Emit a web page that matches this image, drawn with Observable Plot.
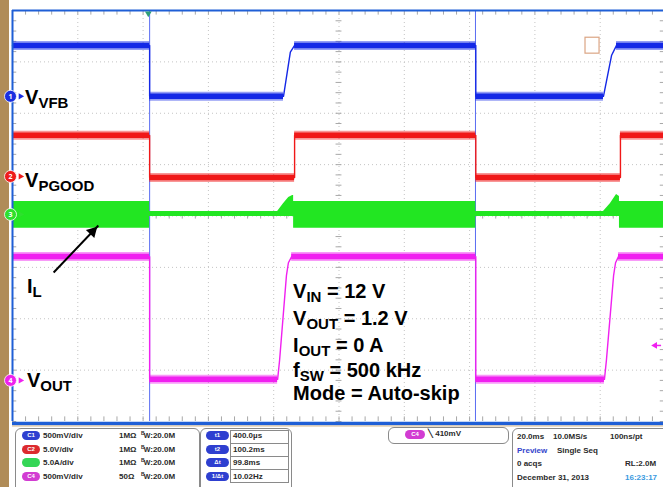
<!DOCTYPE html>
<html><head><meta charset="utf-8">
<script src="https://cdn.jsdelivr.net/npm/d3@7"></script>
<script src="https://cdn.jsdelivr.net/npm/@observablehq/plot@0.6"></script>
<style>
html,body{margin:0;padding:0;background:#fff;}
#wrap{position:relative;width:663px;height:487px;overflow:hidden;background:#fff;font-family:"Liberation Sans",Arial,Helvetica,sans-serif;}
#strip{position:absolute;left:0;top:0;width:9px;height:487px;background:#b08c58;}
#chart{position:absolute;left:0;top:0;}
.lbl{position:absolute;font-weight:bold;font-size:20px;line-height:16px;color:#000;white-space:nowrap;}
.lbl .s{font-size:15px;line-height:11px;display:inline-block;position:relative;top:4px;}
.box{position:absolute;border:1px solid #8a8a8a;border-radius:6px;background:#fff;}
.t{position:absolute;font-weight:bold;font-size:8px;line-height:10px;color:#2a2a2a;white-space:nowrap;}
.pill{position:absolute;height:9px;border-radius:5px;color:#fff;font-size:6px;line-height:9px;text-align:center;font-weight:bold;}
.vb{position:absolute;border:1px solid #8a8a8a;background:#fff;height:12px;}
</style></head>
<body><div id="wrap"><div id="strip"></div><div id="chart"></div></div>
<script>
// ---- time axis (ms, t1 cursor ≈ trigger) and screen divisions ----
const xDomain = [-41.6, 158.4];      // 10 divisions of 20 ms
const yDomain = [-4, 4];             // 8 vertical divisions

// ---- traces: time (ms) and level (divisions from screen centre) ----
const vfbT  = [-41.6, 0.4, 0.4, 41.4, 43.5, 44.8, 100.3, 100.3, 139.4, 141.9, 143.4, 158.4];
const vfbV  = [3.32, 3.32, 2.33, 2.33, 3.19, 3.32, 3.32, 2.33, 2.33, 3.13, 3.32, 3.32];

const pgT   = [-41.6, 0.4, 0.4, 44.8, 44.8, 100.3, 100.3, 144.6, 144.6, 158.4];
const pgV   = [1.57, 1.57, 0.75, 0.75, 1.57, 1.57, 0.75, 0.75, 1.57, 1.57];

const ilT   = [-41.6, 0.4, 0.4, 39.6, 41.4, 43.0, 44.2, 44.5, 44.5, 100.3, 100.3, 139.4, 141.5, 143.4, 144.3, 144.3, 158.4];
const ilLo  = [-0.24, -0.24, -0.01, -0.01, -0.01, -0.01, -0.01, -0.01, -0.24, -0.24, -0.01, -0.01, -0.01, -0.01, -0.01, -0.24, -0.24];
const ilHi  = [0.28, 0.28, 0.09, 0.09, 0.24, 0.36, 0.40, 0.40, 0.28, 0.28, 0.09, 0.09, 0.24, 0.42, 0.38, 0.28, 0.28];

const voutT = [-41.6, 0.4, 0.4, 39.6, 40.2, 42.3, 42.9, 43.9, 100.3, 100.3, 139.7, 140.3, 142.5, 143.1, 144.0, 158.4];
const voutV = [-0.79, -0.79, -3.18, -3.18, -2.81, -1.16, -0.91, -0.79, -0.79, -3.18, -3.18, -2.81, -1.16, -0.91, -0.79, -0.79];

// cursors (ms)
const cursorT = [0.4, 100.2];
// channel ground markers (divisions)
const chanNames = ["1", "2", "3", "4"];
const chanLevels = [2.33, 0.77, 0.03, -3.2];
const chanColors = ["#1a2ee0", "#ee1c1c", "#2ee02e", "#ee22ee"];
const trigLevel = -2.52;

// ---- annotation text ----
const traceLabels = [
  {main: "V", sub: "VFB",   t: -37.6, v: 2.17},
  {main: "V", sub: "PGOOD", t: -37.6, v: 0.56},
  {main: "I", sub: "L",     t: -37.0, v: -1.51},
  {main: "V", sub: "OUT",   t: -37.0, v: -3.34}
];
const condMain = ["V", "V", "I", "f", "Mode = Auto-skip"];
const condSub  = ["IN", "OUT", "OUT", "SW", ""];
const condRest = [" = 12 V", " = 1.2 V", " = 0 A", " = 500 kHz", ""];
const condBase = [-1.606, -2.131, -2.657, -3.135, -3.59];
const condT = 44.5;
const arrowFrom = {t: -29.0, v: -1.10};
const arrowTip  = {t: -15.3, v: -0.185};
const cursorBox = {t0: 133.9, t1: 138.2, v0: 3.16, v1: 3.47};

// ---- status panel ----
const chPill  = ["C1", "C2", "C3", "C4"];
const chScale = ["500mV/div", "5.0V/div", "5.0A/div", "500mV/div"];
const chImp   = ["1MΩ", "1MΩ", "1MΩ", "50Ω"];
const chBW    = ["20.0M", "20.0M", "20.0M", "20.0M"];
const curPill = ["t1", "t2", "Δt", "1/Δt"];
const curVal  = ["400.0µs", "100.2ms", "99.8ms", "10.02Hz"];
const trigSrc = "C4", trigVal = "410mV";
const acqRows = [["20.0ms", "10.0MS/s", "100ns/pt"], ["Preview", "Single Seq", ""], ["0 acqs", "", "RL:2.0M"], ["December 31, 2013", "", "16:23:17"]];

// ---- helpers ----
const rows = (T, V) => T.map((t, i) => ({t, v: V[i]}));
const flats = (T, V) => {
  const s = [];
  for (let i = 0; i < T.length - 1; i++) if (V[i] === V[i + 1] && T[i + 1] > T[i]) s.push({t0: T[i], t1: T[i + 1], v: V[i]});
  return s;
};
const vfb = rows(vfbT, vfbV), pg = rows(pgT, pgV), vout = rows(voutT, voutV);
const il = ilT.map((t, i) => ({t, lo: ilLo[i], hi: ilHi[i]}));
const majorX = d3.range(1, 10).map(i => xDomain[0] + 20 * i);
const majorY = d3.range(-3, 4);
const minorX = d3.range(0, 51).map(i => xDomain[0] + 4 * i);
const minorY = d3.range(-20, 21).map(i => i * 0.2);
const cx = xDomain[0] + 100;
const chans = chanNames.map((n, i) => ({n, v: chanLevels[i], c: chanColors[i]}));

const grid = "#c4c4c4", tick = "#a8a8a8", border = "#1f5fd6";

function band(data, color) {
  return [
    Plot.line(data, {x: "t", y: "v", stroke: color, strokeWidth: 1.4}),
    Plot.ruleY(flats(data.map(d => d.t), data.map(d => d.v)), {y: "v", x1: "t0", x2: "t1", stroke: color, strokeWidth: 9, strokeOpacity: 0.45}),
    Plot.ruleY(flats(data.map(d => d.t), data.map(d => d.v)), {y: "v", x1: "t0", x2: "t1", stroke: color, strokeWidth: 5.5})
  ];
}

const plot = Plot.plot({
  width: 663, height: 427,
  marginTop: 10, marginBottom: 6, marginLeft: 12, marginRight: -2,
  x: {domain: xDomain, axis: null},
  y: {domain: yDomain, axis: null},
  style: {background: "transparent", overflow: "visible"},
  marks: [
    // dotted graticule
    Plot.ruleX(majorX, {stroke: grid, strokeDasharray: "1,3"}),
    Plot.ruleY(majorY, {stroke: grid, strokeDasharray: "1,3"}),
    // centre axis ticks
    Plot.ruleX(minorX, {y1: -0.06, y2: 0.06, stroke: tick}),
    Plot.ruleY(minorY, {x1: cx - 0.9, x2: cx + 0.9, stroke: tick}),
    // border ticks
    Plot.ruleX(minorX, {y1: 4, y2: 3.91, stroke: tick}),
    Plot.ruleX(minorX, {y1: -4, y2: -3.91, stroke: tick}),
    Plot.ruleY(minorY, {x1: xDomain[0], x2: xDomain[0] + 1.3, stroke: tick}),
    Plot.ruleY(minorY, {x1: xDomain[1], x2: xDomain[1] - 1.6, stroke: tick}),
    // cursors
    Plot.ruleX(cursorT, {stroke: "#5a6cf2", strokeWidth: 1}),
    // cursor box
    Plot.rect([cursorBox], {x1: "t0", x2: "t1", y1: "v0", y2: "v1", fill: "none", stroke: "#dba584", strokeWidth: 1.2}),
    // traces
    ...band(vfb, "#1428e6"),
    ...band(pg, "#f01818"),
    Plot.areaY(il, {x: "t", y1: "lo", y2: "hi", fill: "#22e622", curve: "linear"}),
    ...band(vout, "#f020f0"),
    // borders
    Plot.ruleY([yDomain[1]], {stroke: border, strokeWidth: 2}),
    Plot.ruleX([xDomain[0]], {stroke: border, strokeWidth: 2}),
    Plot.ruleY([yDomain[0]], {stroke: border, strokeWidth: 3.5, dy: 2}),
    Plot.ruleY([yDomain[0]], {stroke: "#d8b88a", strokeWidth: 1, dy: 4.5}),
    // trigger position marker (top) and trigger level marker (right)
    Plot.dot([0], {x: d => d, y: yDomain[1], symbol: "triangle2", rotate: 180, r: 3.2, fill: "#2f9e78", dy: 3}),
    Plot.dot([trigLevel], {x: xDomain[1] - 3.2, y: d => d, symbol: "triangle2", rotate: -90, r: 3.2, fill: "#f020f0"}),
    Plot.ruleY([trigLevel], {x1: xDomain[1] - 3.2, x2: xDomain[1] - 1.2, stroke: "#f020f0", strokeWidth: 1.5}),
    // channel markers
    Plot.dot(chans, {x: xDomain[0], y: "v", symbol: "triangle2", rotate: 90, r: 3, fill: "c", dx: 8}),
    Plot.dot(chans, {x: xDomain[0], y: "v", r: 6, fill: "c", stroke: "#fff", strokeWidth: 0.8, dx: -2}),
    Plot.text(chans, {x: xDomain[0], y: "v", text: "n", fill: "#fff", fontSize: 7, fontWeight: "bold", dx: -2}),
    // I_L arrow
    Plot.link([arrowFrom], {x1: "t", y1: "v", x2: () => arrowTip.t, y2: () => arrowTip.v, stroke: "#000", strokeWidth: 2}),
    Plot.dot([arrowTip], {x: "t", y: "v", symbol: "triangle2", rotate: 44, r: 5.6, fill: "#000", dx: -5.9, dy: 6.1})
  ]
});
plot.style.display = "block";
document.getElementById("chart").appendChild(plot);

const xs = plot.scale("x"), ys = plot.scale("y");
const wrap = document.getElementById("wrap");
const FS = 20, LH = 16, baseOff = (LH - 1.117 * FS) / 2 + 0.905 * FS;
function addLabel(main, sub, rest, t, v) {
  const d = document.createElement("div");
  d.className = "lbl";
  d.innerHTML = main + (sub ? `<span class="s">${sub}</span>` : "") + (rest || "");
  d.style.left = xs.apply(t) + "px";
  d.style.top = (ys.apply(v) - baseOff) + "px";
  wrap.appendChild(d);
}
traceLabels.forEach(l => addLabel(l.main, l.sub, "", l.t, l.v));
condMain.forEach((m, i) => addLabel(m, condSub[i], condRest[i], condT, condBase[i]));

// ---- status panel ----
function el(cls, css, html, parent) {
  const d = document.createElement("div");
  d.className = cls;
  Object.assign(d.style, css);
  if (html != null) d.innerHTML = html;
  (parent || wrap).appendChild(d);
  return d;
}
const pillColors = ["#2e3fd0", "#dc2a2e", "#34d656", "#d23cd2"];
const rowTop = [431, 445, 458, 472];
el("box", {left: "15px", top: "428px", width: "183px", height: "66px"});
chPill.forEach((p, i) => {
  el("pill", {left: "22px", top: rowTop[i] + "px", width: "18px", background: pillColors[i]}, i === 2 ? "" : p);
  el("t", {left: "43px", top: rowTop[i] + "px"}, chScale[i]);
  el("t", {left: "119px", top: rowTop[i] + "px"}, chImp[i]);
  el("t", {left: "141px", top: rowTop[i] + "px"}, `<span style="font-size:5px;position:relative;top:-3px">B</span><span style="font-size:7px;margin-left:-1px">W</span>:` + chBW[i]);
});
el("box", {left: "200px", top: "428px", width: "90px", height: "66px"});
curPill.forEach((p, i) => {
  el("pill", {left: "206px", top: rowTop[i] + "px", width: "23px", background: "#2e3fd0"}, p);
  el("vb", {left: "230px", top: (430 + 13 * i) + "px", width: "57px"});
  el("t", {left: "233px", top: rowTop[i] + "px"}, curVal[i]);
});
el("box", {left: "388px", top: "427px", width: "119px", height: "15px"});
el("pill", {left: "405px", top: "430px", width: "20px", background: "#d23cd2"}, trigSrc);
el("t", {left: "428px", top: "429px"}, "╲ " + trigVal);
el("box", {left: "512px", top: "428px", width: "160px", height: "66px"});
const acqX = [517, 553, 610];
acqRows.forEach((r, i) => {
  r.forEach((s, j) => {
    if (!s) return;
    let left = acqX[j];
    if (i === 1 && j === 1) left = 557;
    if (i >= 2 && j === 2) left = 625;
    const color = (i === 1 && j === 0) ? "#3344cc" : (i === 3 && j === 2) ? "#3a9ae0" : "#2a2a2a";
    el("t", {left: left + "px", top: (rowTop[i] + 1) + "px", color}, s);
  });
});
</script></body></html>
